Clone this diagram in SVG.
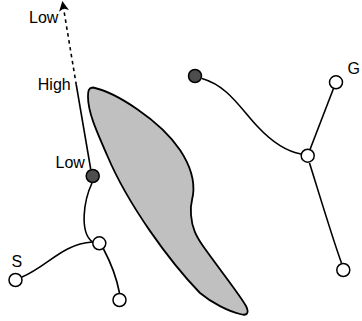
<svg xmlns="http://www.w3.org/2000/svg" width="362" height="321" viewBox="0 0 362 321">
  <defs>
    <marker id="head" viewBox="0 0 10 10" refX="9" refY="5" markerWidth="10" markerHeight="10" markerUnits="userSpaceOnUse" orient="auto">
      <path d="M0,0 L10,5 L0,10 L2.5,5 Z" fill="#000"/>
    </marker>
  </defs>
  <style>
    .edge { fill: none; stroke: #000; stroke-width: 1.6; }
    .open { fill: #fff; stroke: #000; stroke-width: 1.5; }
    .dark { fill: #4d4d4d; stroke: #000; stroke-width: 1.5; }
    .obstacle { fill: #c0c0c0; stroke: #000; stroke-width: 1.8; }
    text { font-family: "Liberation Sans", Arial, sans-serif; font-size: 16px; fill: #000; }
  </style>

  <rect width="362" height="321" fill="#fff"/>

  <!-- obstacle -->
  <path class="obstacle" d="M 93 87.5 C 115 92, 160 120, 180 150 C 190 165, 195 180, 193 195 C 192 200, 190 205, 191 215 C 192 228, 196 236, 203 246 C 220 270, 240 295, 246 306 C 250 314, 246 316, 240 314 C 228 311, 212 303, 200 293 C 170 262, 128 205, 107 155 C 96 130, 88 112, 88 97 C 88 90, 89 87.5, 93 87.5 Z"/>

  <!-- connectors -->
  <g id="connectors">
    <path class="edge" d="M 92 183 C 84 200, 79 232, 92.5 242"/>
    <path class="edge" d="M 22 277 C 48 266, 62 244, 92.5 242"/>
    <path class="edge" d="M 103.5 249 C 111 263, 117 280, 119.5 293"/>
    <path class="edge" d="M 202 78.5 C 228 86, 240 108, 258 127 C 274 144, 290 152, 301 154"/>
    <path class="edge" d="M 310 149.5 L 333.5 88.5"/>
    <path class="edge" d="M 309.5 163 C 318 190, 333 240, 341.5 263"/>
    <!-- heuristic direction: solid from Low to High, dashed beyond -->
    <path class="edge" d="M 90.7 169 L 76.3 85"/>
    <path class="edge" d="M 76.3 85 L 62.5 2" stroke-dasharray="3.5,3.5" marker-end="url(#head)"/>
  </g>

  <!-- nodes -->
  <g id="n-start"><circle class="open" cx="15.5" cy="280" r="6.5"/><text x="11.5" y="267">S</text></g>
  <g id="n-branch-a"><circle class="open" cx="99.3" cy="243.3" r="6.5"/></g>
  <g id="n-leaf-a"><circle class="open" cx="119.5" cy="300" r="6.5"/></g>
  <g id="n-current-a"><circle class="dark" cx="92.7" cy="176" r="6.5"/><text x="55.5" y="168">Low</text></g>
  <g id="n-current-b"><circle class="dark" cx="195" cy="76" r="6.5"/></g>
  <g id="n-branch-b"><circle class="open" cx="307.7" cy="155.7" r="6.5"/></g>
  <g id="n-goal"><circle class="open" cx="336" cy="82.3" r="6.5"/><text x="347.5" y="74">G</text></g>
  <g id="n-leaf-b"><circle class="open" cx="343.3" cy="270" r="6.5"/></g>

  <!-- scale labels -->
  <text x="29" y="23">Low</text>
  <text x="37.8" y="89.5">High</text>
</svg>
